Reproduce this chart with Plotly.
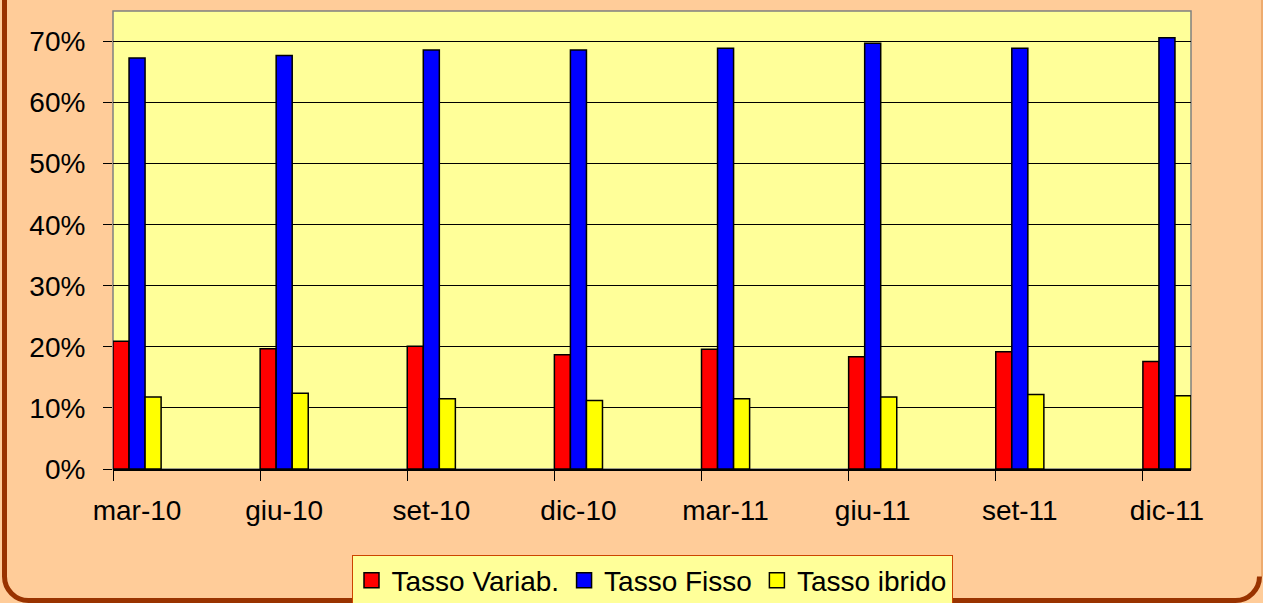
import plotly.graph_objects as go

categories = ["mar-10", "giu-10", "set-10", "dic-10", "mar-11", "giu-11", "set-11", "dic-11"]
tasso_variabile = [0.209, 0.197, 0.201, 0.187, 0.196, 0.184, 0.192, 0.176]
tasso_fisso = [0.673, 0.677, 0.686, 0.686, 0.689, 0.697, 0.689, 0.706]
tasso_ibrido = [0.118, 0.124, 0.115, 0.112, 0.115, 0.118, 0.122, 0.120]
series_names = ["Tasso Variab.", "Tasso Fisso", "Tasso ibrido"]
series_colors = ["#FF0000", "#0000FF", "#FFFF00"]

W, H = 1263, 603
ML, MR, MT, MB = 113, 72, 11, 134
PW, PH = W - ML - MR, H - MT - MB

BARGAP = 0.673
grp = 1 - BARGAP
xs = list(range(len(categories)))

FONT = "Liberation Sans, Arial, sans-serif"
FS = 28

fig = go.Figure()
for name, vals, col in zip(series_names, [tasso_variabile, tasso_fisso, tasso_ibrido], series_colors):
    fig.add_trace(go.Bar(x=xs, y=vals, name=name, legendgroup=name, showlegend=False,
                         marker=dict(color=col, line=dict(color="#000000", width=1.5))))
# legend entries with larger square swatches
for name, col in zip(series_names, series_colors):
    fig.add_trace(go.Scatter(x=[None], y=[None], mode="markers", name=name, legendgroup=name,
                             marker=dict(symbol="square", size=15, color=col,
                                         line=dict(color="#000000", width=1.5))))

def px(x):
    return (x - ML) / PW

def py(y):
    return (MT + PH - y) / PH

# outer rounded frame (left & bottom, brown)
r = 24
xl, yb, xr = 4.5, 600.5, 1259.5
path = (f"M {px(xl)},{py(-20)} L {px(xl)},{py(yb - r)} "
        f"C {px(xl)},{py(yb - r*0.45)} {px(xl + r*0.45)},{py(yb)} {px(xl + r)},{py(yb)} "
        f"L {px(xr - r)},{py(yb)} "
        f"C {px(xr - r*0.45)},{py(yb)} {px(xr)},{py(yb - r*0.45)} {px(xr)},{py(yb - r)}")
shapes = [
    dict(type="line", xref="paper", yref="paper", x0=px(1262), x1=px(1262), y0=py(-5), y1=py(yb - r),
         line=dict(color="#E8A060", width=1.5), layer="above"),
    dict(type="path", xref="paper", yref="paper", path=path, line=dict(color="#993300", width=5), layer="above"),
    dict(type="rect", xref="paper", yref="paper", x0=0, x1=1, y0=0, y1=1,
         line=dict(color="#808080", width=1.5), layer="below"),
]

fig.update_layout(
    width=W, height=H,
    margin=dict(l=ML, r=MR, t=MT, b=MB, autoexpand=False),
    paper_bgcolor="#FFCC99",
    plot_bgcolor="#FFFF99",
    barmode="group", bargap=BARGAP, bargroupgap=0,
    font=dict(family=FONT, size=FS, color="#000000"),
    showlegend=True,
    legend=dict(orientation="h", x=0.5, xanchor="center", xref="paper",
                y=1 - 554.5 / H, yanchor="top", yref="container",
                bgcolor="#FFFF99", bordercolor="#CC4400", borderwidth=1,
                font=dict(family=FONT, size=FS, color="#000000"), itemwidth=30,
                tracegroupgap=0),
    shapes=shapes,
    xaxis=dict(range=[-grp / 2, len(categories) - 1 + grp / 2], tickmode="array", tickvals=xs,
               ticktext=categories, ticks="", showgrid=False, zeroline=False,
               showline=True, linecolor="#000000", linewidth=1.5, ticklabelstandoff=16,
               tickfont=dict(family=FONT, size=FS, color="#000000"),
               minor=dict(tickmode="array", tickvals=[x - grp / 2 for x in xs], ticks="outside",
                          ticklen=10, tickcolor="#000000", tickwidth=1, showgrid=False)),
    yaxis=dict(range=[0, 0.75], tickmode="array", tickvals=[0, 0.1, 0.2, 0.3, 0.4, 0.5, 0.6, 0.7],
               tickformat=".0%", ticks="outside", ticklen=9, tickcolor="#000000",
               showgrid=True, gridcolor="#000000", gridwidth=1, zeroline=False,
               showline=False, ticklabelstandoff=12,
               tickfont=dict(family=FONT, size=FS, color="#000000")),
)

fig.write_html("out.html", config={"displayModeBar": False},
               post_script="document.body.style.margin='0';document.body.style.overflow='hidden';")
